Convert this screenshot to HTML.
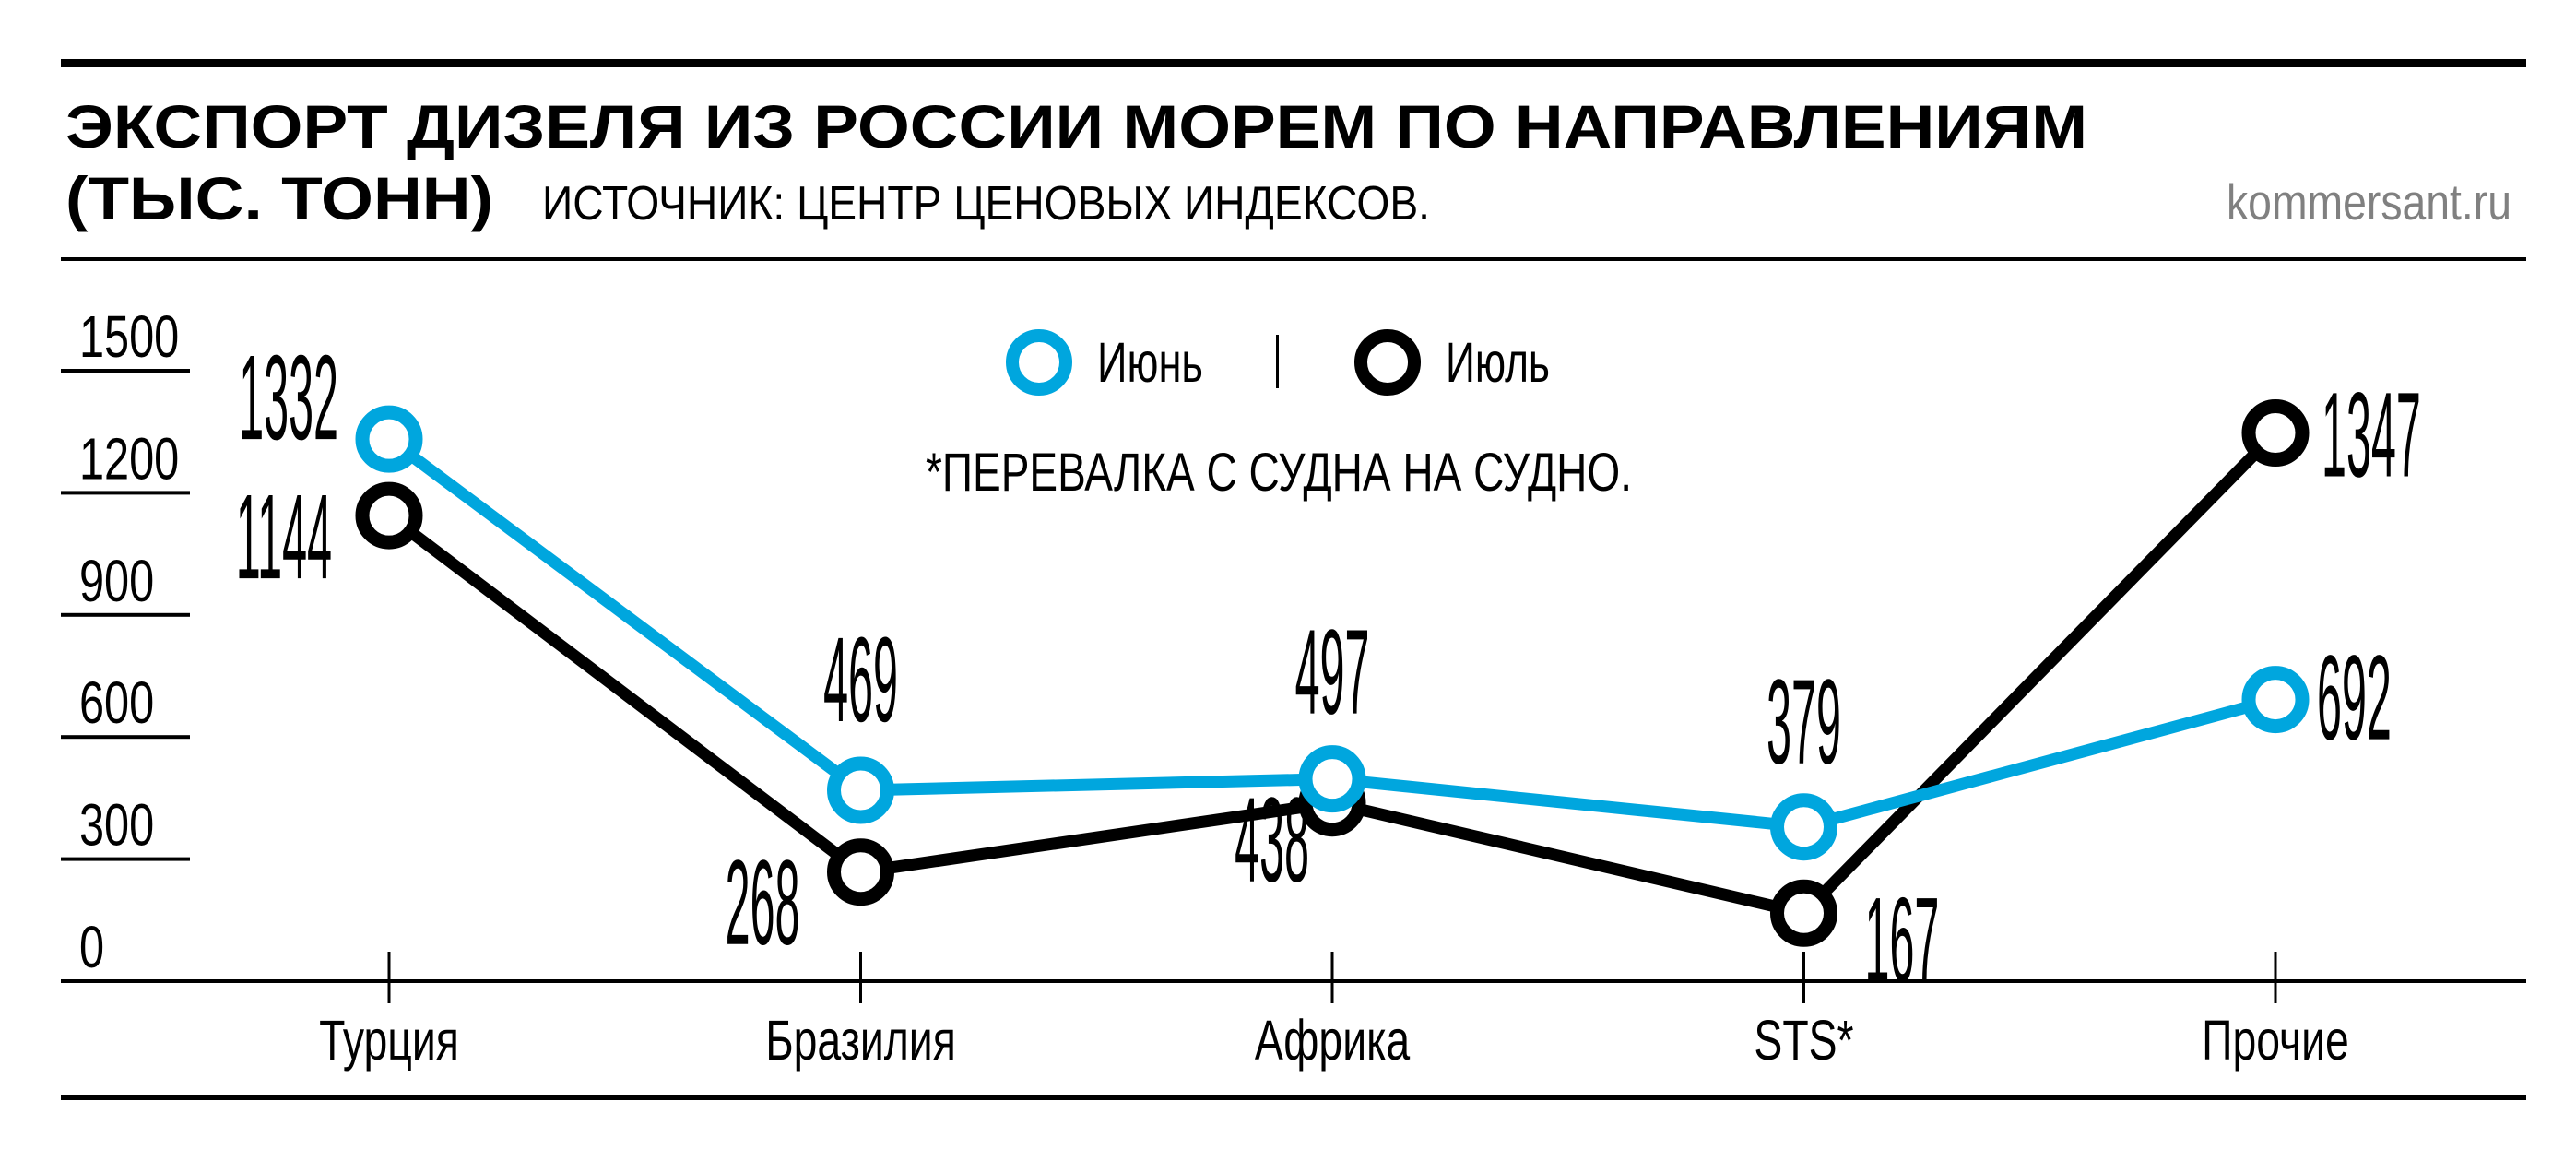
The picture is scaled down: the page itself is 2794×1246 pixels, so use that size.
<!DOCTYPE html>
<html><head><meta charset="utf-8"><style>
html,body{margin:0;padding:0;background:#fff;}
svg{display:block;}
text{font-family:"Liberation Sans",sans-serif;}
</style></head><body>
<svg id="chart" width="2794" height="1246" viewBox="0 0 2794 1246" xmlns="http://www.w3.org/2000/svg">
<rect x="0" y="0" width="2794" height="1246" fill="#fff"/>
<rect x="66" y="64" width="2674" height="9" fill="#000"/>
<text x="71" y="160" font-size="66" font-weight="bold" textLength="2193" lengthAdjust="spacingAndGlyphs">ЭКСПОРТ ДИЗЕЛЯ ИЗ РОССИИ МОРЕМ ПО НАПРАВЛЕНИЯМ</text>
<text x="71" y="238" font-size="66" font-weight="bold" textLength="464" lengthAdjust="spacingAndGlyphs">(ТЫС. ТОНН)</text>
<text x="588" y="238" font-size="52" textLength="963" lengthAdjust="spacingAndGlyphs">ИСТОЧНИК: ЦЕНТР ЦЕНОВЫХ ИНДЕКСОВ.</text>
<text x="2415" y="238" font-size="55" fill="#808080" textLength="309" lengthAdjust="spacingAndGlyphs">kommersant.ru</text>
<rect x="66" y="279" width="2674" height="4" fill="#000"/>
<rect x="66" y="1187" width="2674" height="6" fill="#000"/>
<g>
<circle cx="1127" cy="393" r="29" fill="#fff" stroke="#00a6de" stroke-width="14"/>
<text x="1190" y="414" font-size="61" textLength="115" lengthAdjust="spacingAndGlyphs">Июнь</text>
<rect x="1384" y="363" width="3" height="58" fill="#000"/>
<circle cx="1505" cy="393" r="29" fill="#fff" stroke="#000" stroke-width="14"/>
<text x="1568" y="414" font-size="61" textLength="113" lengthAdjust="spacingAndGlyphs">Июль</text>
</g>
<text x="1004" y="532" font-size="58" textLength="766" lengthAdjust="spacingAndGlyphs">*ПЕРЕВАЛКА С СУДНА НА СУДНО.</text>
<g id="grid"></g><g id="axis"></g><g id="lines"></g><g id="labels"></g>
</svg>
<script>
const categories = ["Турция","Бразилия","Африка","STS*","Прочие"];
const june = [1332, 469, 497, 379, 692];
const july = [1144, 268, 438, 167, 1347];
const yTicks = [0, 300, 600, 900, 1200, 1500];

const NS = "http://www.w3.org/2000/svg";
const x0 = 422, xStep = 511.5, y0 = 1064, yScale = 662/1500;
function xPos(i){ return x0 + i*xStep; }
function yPos(v){ return y0 - v*yScale; }
function mk(tag, attrs, parent){
  const e = document.createElementNS(NS, tag);
  for (const k in attrs) e.setAttribute(k, attrs[k]);
  parent.appendChild(e); return e;
}
const grid = document.getElementById('grid');
const axis = document.getElementById('axis');
const lines = document.getElementById('lines');
const labels = document.getElementById('labels');

yTicks.forEach(v => {
  const y = yPos(v);
  if (v > 0) {
    const l = mk('rect', {x:66, y:y-2, width:140, height:4, fill:'#000'}, grid);
    
    
  }
  const t = mk('text', {transform:`translate(86,${y-15}) scale(0.76,1)`, 'font-size':64}, grid);
  t.textContent = v;
  
  
});
const ax = mk('rect', {x:66, y:y0-2, width:2674, height:4, fill:'#000'}, axis);


categories.forEach((c, i) => {
  const tk = mk('rect', {x:xPos(i)-1.5, y:1032, width:3, height:56, fill:'#000'}, axis);
  
  
  const t = mk('text', {transform:`translate(${xPos(i)},1149) scale(0.76,1)`, 'font-size':61, 'text-anchor':'middle'}, axis);
  t.textContent = c;
  
  
});

function series(vals, color, name){
  const pts = vals.map((v,i) => xPos(i) + ',' + yPos(v)).join(' ');
  const pl = mk('polyline', {points:pts, fill:'none', stroke:color, 'stroke-width':13, 'stroke-linejoin':'round'}, lines);
  
  
  vals.forEach((v,i) => {
    const c = mk('circle', {cx:xPos(i), cy:yPos(v), r:29, fill:'#fff', stroke:color, 'stroke-width':15}, lines);
    
    
  });
}
series(july, '#000', 'july');
series(june, '#00a6de', 'june');

// label placement offsets (layout only)
const juneOff = [[-55,0,'end'],[0,-75,'middle'],[0,-71,'middle'],[0,-69,'middle'],[45,43,'start']];
const julyOff = [[-62,68,'end'],[-66,78,'end'],[-25,85,'end'],[66,74,'start'],[50,47,'start']];
function valueLabels(vals, offs, name){
  vals.forEach((v,i) => {
    const [dx,dy,anc] = offs[i];
    const t = mk('text', {transform:`translate(${xPos(i)+dx},${yPos(v)+dy}) scale(0.37,1)`, 'font-size':131, 'text-anchor':anc}, labels);
    t.textContent = v;
    
    
  });
}
valueLabels(june, juneOff, 'june');
valueLabels(july, julyOff, 'july');
</script>
</body></html>
